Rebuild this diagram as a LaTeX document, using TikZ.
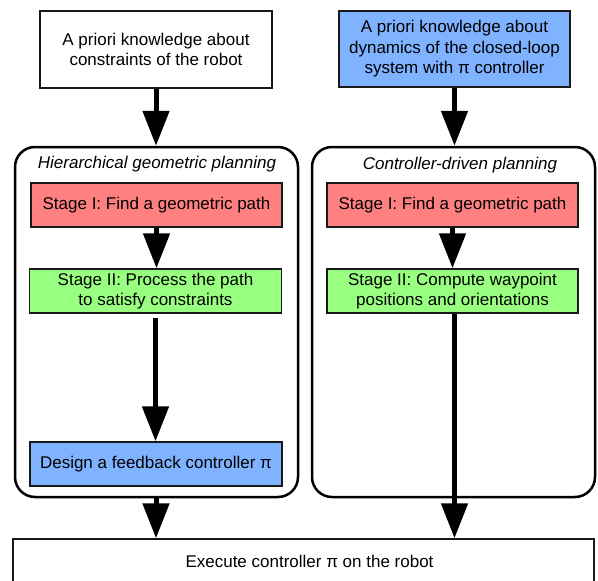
\documentclass[tikz,border=0pt]{standalone}
\usepackage{fontspec}
\setmainfont{Liberation Sans}
\usetikzlibrary{positioning,arrows.meta}
\definecolor{stagered}{HTML}{FF8080}
\definecolor{stagegreen}{HTML}{99FF80}
\definecolor{ctrlblue}{HTML}{80B3FF}
\tikzset{dfont/.style={font=\fontsize{17}{20.5}\selectfont}}
\tikzset{dbox/.style={dfont, draw=black!90, line width=1.5pt, inner sep=0pt, align=center}}
\tikzset{dstage/.style={dbox, minimum width=251pt, minimum height=44pt}}
\tikzset{dframe/.style={draw, line width=2.5pt, rounded corners=20pt, minimum width=283pt, minimum height=350pt}}
\tikzset{dtitle/.style={dfont, font=\fontsize{17}{20.5}\selectfont\itshape, inner sep=0pt}}
\tikzset{arrB/.style={draw, -{Triangle[length=35pt,width=26pt]}, line width=5pt}}

\begin{document}
\begin{tikzpicture}[x=1pt, y=-1pt]
			\useasboundingbox (0,0) rectangle (598,581);
			\clip (0,0) rectangle (598,581);
			\node[dbox, minimum width=232pt, minimum height=77pt] (kbL) at (156,49.5)
			   {A priori knowledge about\\constraints of the robot};
			\node[dbox, fill=ctrlblue, minimum width=231pt, minimum height=76pt] (kbR) at (454.5,49)
			   {A priori knowledge about\\dynamics of the closed-loop\\system with π controller};
			\node[dframe] (hgp) at (156.5,322) {};
			\node[dframe] (cdp) at (453.5,322) {};
			\node[dtitle] (hgpT) at (157,164.5) {Hierarchical geometric planning};
			\node[dtitle] (cdpT) at (460,165) {Controller-driven planning};
			\node[dstage, fill=stagered] (hgpS1) at (156.5,205) {Stage I: Find a geometric path};
			\node[dstage, fill=stagegreen, minimum width=252pt] (hgpS2) at (155.5,291)
			   {Stage II: Process the path\\to satisfy constraints};
			\node[dstage, fill=ctrlblue, minimum width=252pt] (hgpC) at (156,464)
			   {Design a feedback controller π};
			\node[dstage, fill=stagered] (cdpS1) at (452.5,205) {Stage I: Find a geometric path};
			\node[dstage, fill=stagegreen] (cdpS2) at (452.5,291)
			   {Stage II: Compute waypoint\\positions and orientations};
			\node[dbox, minimum width=581pt, minimum height=44pt] (exec) at (303.5,561)
			   {\hspace*{12pt}Execute controller π on the robot};
			\draw[arrB] (kbL.south) -- (kbL.south |- hgp.north);
			\draw[arrB] (kbR.south) -- (kbR.south |- cdp.north);
			\draw[arrB] (hgpS1.south) -- (hgpS1.south |- hgpS2.north);
			\draw[arrB, shorten <=4pt] (hgpS2.south) -- (hgpS2.south |- hgpC.north);
			\draw[arrB] (hgpC.south |- hgp.south) -- (hgpC.south |- exec.north);
			\draw[arrB] (cdpS1.south) -- (cdpS1.south |- cdpS2.north);
			\draw[arrB] (kbR.south |- cdpS2.south) -- (kbR.south |- exec.north);
\end{tikzpicture}
\end{document}
